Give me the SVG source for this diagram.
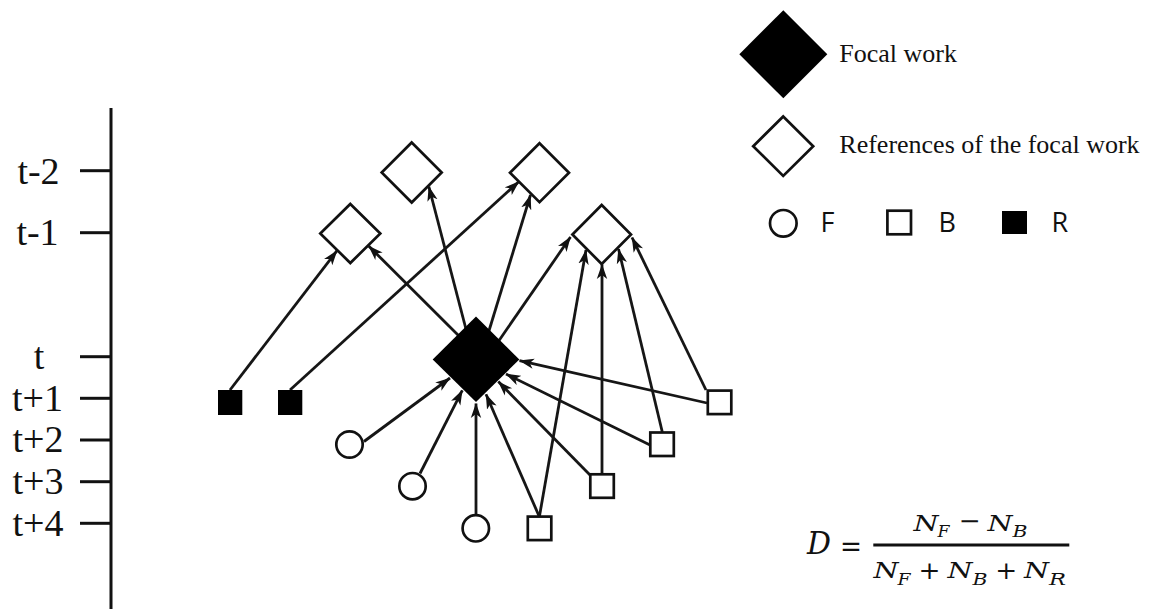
<svg xmlns="http://www.w3.org/2000/svg" width="1151" height="609" viewBox="0 0 1151 609">
  <defs>
    <marker id="arrow" viewBox="0 0 15 12" refX="14.5" refY="6" markerWidth="15" markerHeight="12" markerUnits="userSpaceOnUse" orient="auto">
      <path d="M0,0.8 L15,6 L0,11.2 L4,6 Z" fill="#111"/>
    </marker>
    <style>
      .axis { stroke: #111; stroke-width: 3; fill: none; }
      .tick-label { font-family: "Liberation Serif", "Times New Roman", serif; font-size: 38px; fill: #111; text-anchor: middle; }
      .edge { stroke: #161616; stroke-width: 2.8; fill: none; marker-end: url(#arrow); }
      .ref { fill: #fff; stroke: #111; stroke-width: 2.7; }
      .focal { fill: #000; stroke: none; }
      .cite-f { fill: #fff; stroke: #111; stroke-width: 2.7; }
      .cite-b { fill: #fff; stroke: #111; stroke-width: 2.7; }
      .cite-r { fill: #000; stroke: none; }
      .legend-serif { font-family: "Liberation Serif", "Times New Roman", serif; font-size: 26px; fill: #111; }
      .legend-sans { font-family: "Open Sans", "Liberation Sans", sans-serif; font-size: 27px; fill: #111; }
      .math { font-family: "DejaVu Serif", "Liberation Serif", serif; fill: #111; }
      .mi { font-style: italic; }
    </style>
  </defs>

  <!-- time axis -->
  <g id="time-axis">
    <line class="axis" x1="111" y1="108" x2="111" y2="609"/>
    <line class="axis" x1="80" y1="170.7" x2="111" y2="170.7"/>
    <line class="axis" x1="80" y1="232.7" x2="111" y2="232.7"/>
    <line class="axis" x1="80" y1="356.7" x2="111" y2="356.7"/>
    <line class="axis" x1="80" y1="398.3" x2="111" y2="398.3"/>
    <line class="axis" x1="80" y1="440" x2="111" y2="440"/>
    <line class="axis" x1="80" y1="481.7" x2="111" y2="481.7"/>
    <line class="axis" x1="80" y1="523.3" x2="111" y2="523.3"/>
    <text class="tick-label" x="38.5" y="183.5">t-2</text>
    <text class="tick-label" x="37.5" y="245">t-1</text>
    <text class="tick-label" x="39" y="368.5">t</text>
    <text class="tick-label" x="37.5" y="411">t+1</text>
    <text class="tick-label" x="38" y="452">t+2</text>
    <text class="tick-label" x="38" y="493.5">t+3</text>
    <text class="tick-label" x="38" y="535.5">t+4</text>
  </g>

  <!-- citation links -->
  <g id="connectors">
    <!-- R (cites references only) -->
    <line class="edge" x1="230" y1="390" x2="337" y2="250.7"/>
    <line class="edge" x1="290" y1="390" x2="519" y2="181.5"/>
    <!-- focal work to its references -->
    <line class="edge" x1="467" y1="333" x2="428.8" y2="186.5"/>
    <line class="edge" x1="488" y1="334" x2="530.5" y2="195"/>
    <line class="edge" x1="462" y1="339" x2="368.7" y2="246"/>
    <line class="edge" x1="498" y1="342" x2="570.5" y2="237"/>
    <!-- B (cites focal work and its references) -->
    <line class="edge" x1="706" y1="390" x2="632" y2="237.5"/>
    <line class="edge" x1="662.3" y1="432" x2="618.5" y2="249"/>
    <line class="edge" x1="602" y1="474" x2="602" y2="264.5"/>
    <line class="edge" x1="539.5" y1="516" x2="586" y2="250"/>
    <line class="edge" x1="707" y1="403" x2="519.5" y2="360.6"/>
    <line class="edge" x1="650" y1="445" x2="506" y2="374"/>
    <line class="edge" x1="590" y1="475" x2="498.3" y2="381.5"/>
    <line class="edge" x1="539" y1="516" x2="486" y2="394.3"/>
    <!-- F (cites focal work only) -->
    <line class="edge" x1="364" y1="441.5" x2="450" y2="378"/>
    <line class="edge" x1="420" y1="473.5" x2="462.3" y2="390.3"/>
    <line class="edge" x1="476" y1="514" x2="476" y2="403.5"/>
  </g>

  <!-- focal work -->
  <g id="focal">
    <polygon class="focal" points="476,316.5 519.3,359.5 476,402 432.7,359.5"/>
  </g>

  <!-- references of the focal work -->
  <g id="ref-t2-a"><polygon class="ref" points="411.7,142.5 441.7,172.5 411.7,202.5 381.7,172.5"/></g>
  <g id="ref-t2-b"><polygon class="ref" points="539.5,143.2 569,172.7 539.5,202.2 510,172.7"/></g>
  <g id="ref-t1-a"><polygon class="ref" points="350.3,204 380.3,233.5 350.3,263 320.3,233.5"/></g>
  <g id="ref-t1-b"><polygon class="ref" points="601.7,205 631,234.5 601.7,264 572.4,234.5"/></g>

  <!-- R citing works -->
  <g id="r1"><rect class="cite-r" x="218" y="390" width="24.3" height="25"/></g>
  <g id="r2"><rect class="cite-r" x="278" y="390" width="24.3" height="25"/></g>

  <!-- F citing works -->
  <g id="f1"><circle class="cite-f" cx="349.5" cy="444.5" r="13.2"/></g>
  <g id="f2"><circle class="cite-f" cx="412.5" cy="486.2" r="13.2"/></g>
  <g id="f3"><circle class="cite-f" cx="475.8" cy="528.3" r="13.2"/></g>

  <!-- B citing works -->
  <g id="b1"><rect class="cite-b" x="707.8" y="390.6" width="23.5" height="23.5"/></g>
  <g id="b2"><rect class="cite-b" x="650.3" y="432.5" width="23.5" height="23.5"/></g>
  <g id="b3"><rect class="cite-b" x="590.3" y="474.3" width="23.5" height="23.5"/></g>
  <g id="b4"><rect class="cite-b" x="527.8" y="516.6" width="23.5" height="23.5"/></g>

  <!-- legend -->
  <g id="legend">
    <polygon class="focal" points="783.3,10.3 827.3,54.3 783.3,98.3 739.3,54.3"/>
    <text class="legend-serif" x="839.3" y="61.7">Focal work</text>
    <polygon class="ref" points="783.2,116.5 813.2,146.2 783.2,175.9 753.2,146.2"/>
    <text class="legend-serif" x="839.3" y="153.3">References of the focal work</text>
    <circle class="cite-f" cx="783.3" cy="223.3" r="13.3"/>
    <text class="legend-sans" x="820.5" y="231.7">F</text>
    <rect class="cite-b" x="887.4" y="210.7" width="23.6" height="23.6"/>
    <text class="legend-sans" x="938.5" y="231.7">B</text>
    <rect class="cite-r" x="1002" y="211" width="25" height="23"/>
    <text class="legend-sans" x="1051.5" y="231.7">R</text>
  </g>

  <!-- disruption index -->
  <g id="formula" class="math">
    <text class="mi" x="807" y="554" font-size="32" textLength="24" lengthAdjust="spacingAndGlyphs">D</text>
    <text x="840" y="555.5" font-size="30" textLength="22" lengthAdjust="spacingAndGlyphs">=</text>
    <line x1="873.3" y1="545" x2="1069.3" y2="545" stroke="#111" stroke-width="2.8"/>
    <!-- numerator -->
    <text class="mi" x="913.5" y="530.5" font-size="23" textLength="25" lengthAdjust="spacingAndGlyphs">N</text>
    <text class="mi" x="937.5" y="537" font-size="16" textLength="12" lengthAdjust="spacingAndGlyphs">F</text>
    <text x="958.5" y="528.5" font-size="24" textLength="22" lengthAdjust="spacingAndGlyphs">−</text>
    <text class="mi" x="987.5" y="530.5" font-size="23" textLength="25" lengthAdjust="spacingAndGlyphs">N</text>
    <text class="mi" x="1012.5" y="537" font-size="16" textLength="15" lengthAdjust="spacingAndGlyphs">B</text>
    <!-- denominator -->
    <text class="mi" x="873.5" y="578.3" font-size="23" textLength="25" lengthAdjust="spacingAndGlyphs">N</text>
    <text class="mi" x="897.5" y="584.8" font-size="16" textLength="13" lengthAdjust="spacingAndGlyphs">F</text>
    <text x="918.5" y="578.5" font-size="24" textLength="22" lengthAdjust="spacingAndGlyphs">+</text>
    <text class="mi" x="947.5" y="578.3" font-size="23" textLength="25" lengthAdjust="spacingAndGlyphs">N</text>
    <text class="mi" x="972.5" y="584.8" font-size="16" textLength="15" lengthAdjust="spacingAndGlyphs">B</text>
    <text x="995.2" y="578.5" font-size="24" textLength="22" lengthAdjust="spacingAndGlyphs">+</text>
    <text class="mi" x="1024" y="578.3" font-size="23" textLength="25" lengthAdjust="spacingAndGlyphs">N</text>
    <text class="mi" x="1049" y="584.8" font-size="16" textLength="17" lengthAdjust="spacingAndGlyphs">R</text>
  </g>
</svg>
